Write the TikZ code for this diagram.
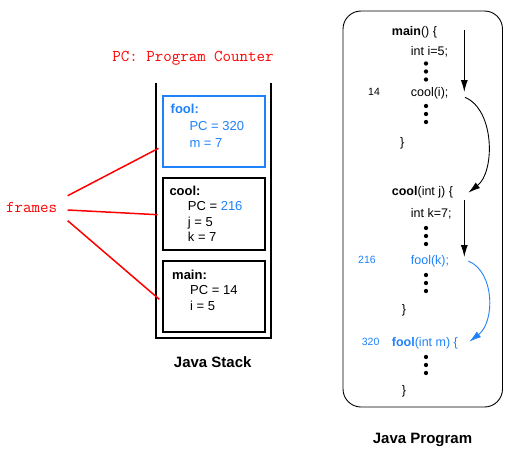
\documentclass[tikz,border=0pt]{standalone}
\usepackage{fontspec}
\setmainfont{Liberation Sans}
\usetikzlibrary{arrows.meta}
\definecolor{jblue}{RGB}{30,130,250}
\definecolor{jred}{RGB}{255,0,0}
\begin{document}
\begin{tikzpicture}[x=1pt,y=-1pt,
  txt/.style={inner sep=0pt, anchor=west, text height=9pt, text depth=0pt, font=\fontsize{13}{15}\selectfont},
  ptxt/.style={inner sep=0pt, anchor=west, text height=9pt, text depth=0pt, font=\fontsize{12.5}{15}\selectfont},
  num/.style={inner sep=0pt, anchor=west, text height=7.5pt, text depth=0pt, font=\fontsize{10.5}{12}\selectfont},
  mono/.style={inner sep=0pt, font=\ttfamily\fontsize{16.5}{18}\selectfont, text=jred},
  frame/.style={draw, line width=1.8pt, inner sep=0pt, minimum width=101.7pt},
  title/.style={inner sep=0pt, font=\bfseries\fontsize{15}{17}\selectfont},
  flow/.style={line width=0.9pt, -{Latex[length=12pt,width=7pt]}},
  redline/.style={jred, line width=1.5pt},
  dot/.style={circle, fill, inner sep=0pt, minimum size=4.3pt}
]
\useasboundingbox (0,0) rectangle (516,460);

% title text
\node[mono] (pc) at (193,58) {PC: Program Counter};
\node[mono, anchor=west] (frames) at (6,207) {frames};

% stack container
\draw[line width=2pt] (155.5,83) -- (155.5,338) -- (270.5,338) -- (270.5,83);

% frames
\node[frame, draw=jblue, minimum height=71pt, anchor=north west] (foolbox) at (162.3,95) {};
\node[frame, minimum height=72pt, anchor=north west] (coolbox) at (162.3,177) {};
\node[frame, minimum height=71pt, anchor=north west] (mainbox) at (162.3,260) {};

\node[txt, text=jblue, font=\bfseries\fontsize{13}{15}\selectfont] (f1) at (170.5,109) {fool:};
\node[txt, text=jblue] (f2) at (189.3,126) {PC = 320};
\node[txt, text=jblue] (f3) at (189.3,142.7) {m = 7};

\node[txt, font=\bfseries\fontsize{13}{15}\selectfont] (c1) at (169.3,190.7) {cool:};
\node[txt] (c2) at (187.7,205.7) {PC = \textcolor{jblue}{216}};
\node[txt] (c3) at (187.7,221.7) {j = 5};
\node[txt] (c4) at (187.7,237.3) {k = 7};

\node[txt, font=\bfseries\fontsize{13}{15}\selectfont] (m1) at (172,275) {main:};
\node[txt] (m2) at (190,290) {PC = 14};
\node[txt] (m3) at (190,306) {i = 5};

\node[title] (jstack) at (212.7,362) {Java Stack};

% red connectors
\coordinate (r1s) at (67.7,195.7);
\coordinate (r1e) at (158.5,148.3);
\coordinate (r2s) at (67.7,210);
\coordinate (r2e) at (157.7,214.7);
\coordinate (r3s) at (67.7,220.7);
\coordinate (r3e) at (159.3,299.3);
\draw[redline] (r1s) -- (r1e);
\draw[redline] (r2s) -- (r2e);
\draw[redline] (r3s) -- (r3e);

% program box
\draw[line width=0.9pt, rounded corners=18pt] (343,11) rectangle (502.5,407);

\node[ptxt] (p1) at (391.7,31) {\textbf{main}() \{};
\node[ptxt] (p2) at (410.7,51) {int i=5;};
\node[dot] (d1) at (426,63.5) {};
\node[dot] (d2) at (426,71.5) {};
\node[dot] (d3) at (426,79.5) {};
\node[num] (n14) at (368,92) {14};
\node[ptxt] (p3) at (410.7,92) {cool(i);};
\node[dot] (d4) at (426,106) {};
\node[dot] (d5) at (426,114) {};
\node[dot] (d6) at (426,122) {};
\node[ptxt] (p4) at (400,141.7) {\}};

\node[ptxt] (p5) at (391.7,191) {\textbf{cool}(int j) \{};
\node[ptxt] (p6) at (410.7,212.5) {int k=7;};
\node[dot] (d7) at (426,228) {};
\node[dot] (d8) at (426,236) {};
\node[dot] (d9) at (426,244) {};
\node[num, text=jblue] (n216) at (358,260) {216};
\node[ptxt, text=jblue] (p7) at (410.7,260) {fool(k);};
\node[dot] (d10) at (426,275) {};
\node[dot] (d11) at (426,283) {};
\node[dot] (d12) at (426,291) {};
\node[ptxt] (p8) at (401.7,309) {\}};

\node[num, text=jblue] (n320) at (361.7,341.7) {320};
\node[ptxt, text=jblue] (p9) at (391.7,341.7) {\textbf{fool}(int m) \{};
\node[dot] (d13) at (426,357) {};
\node[dot] (d14) at (426,365) {};
\node[dot] (d15) at (426,373) {};
\node[ptxt] (p10) at (401.7,390) {\}};

\node[title] (jprog) at (422.5,440) {Java Program};

% flow arrows
\coordinate (a1s) at (464.3,30);
\coordinate (a1e) at (464.3,92);
\coordinate (c1s) at (465,97.3);
\coordinate (c1e) at (468.3,192.7);
\coordinate (a2s) at (464.3,200);
\coordinate (a2e) at (464.3,257);
\coordinate (c2s) at (468.3,261);
\coordinate (c2e) at (469.3,341.7);
\draw[flow] (a1s) -- (a1e);
\draw[flow] (c1s) .. controls (495,110) and (495,172) .. (c1e);
\draw[flow] (a2s) -- (a2e);
\draw[flow, jblue] (c2s) .. controls (495,272) and (495,322) .. (c2e);
\end{tikzpicture}
\end{document}
